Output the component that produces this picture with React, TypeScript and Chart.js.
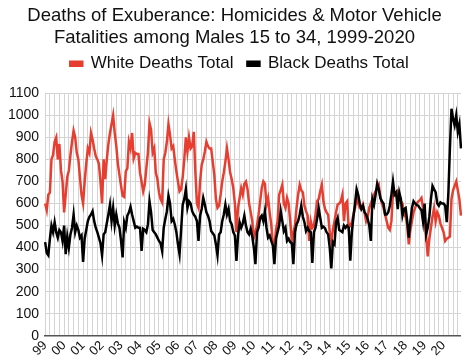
import React, { useEffect, useRef } from "react";
import { Chart, registerables } from "chart.js";

Chart.register(...registerables);

const YEARS = ["99","00","01","02","03","04","05","06","07","08","09","10","11","12","13","14","15","16","17","18","19","20"];

const WHITE_DEATHS: number[] = [
  // 1999
  600, 570, 640, 650, 800, 820, 880, 900, 800, 870, 750, 700,
  // 2000
  560, 640, 720, 750, 820, 880, 930, 900, 830, 800, 720, 640,
  // 2001
  600, 700, 780, 850, 830, 920, 890, 850, 815, 800, 780, 700,
  // 2002
  600, 800, 710, 800, 870, 920, 960, 1000, 920, 860, 780, 730,
  // 2003
  680, 635, 630, 745, 760, 880, 850, 920, 805, 830, 825, 825,
  // 2004
  740, 700, 655, 685, 760, 830, 965, 935, 830, 850, 740, 710,
  // 2005
  650, 620, 605, 800, 830, 880, 960, 910, 850, 860, 800, 745,
  // 2006
  700, 655, 665, 720, 800, 900, 835, 900, 850, 860, 925, 745,
  // 2007
  600, 580, 700, 775, 800, 835, 880, 860, 850, 850, 790, 730,
  // 2008
  620, 580, 590, 640, 700, 740, 790, 850, 800, 740, 710, 670,
  // 2009
  600, 470, 580, 625, 670, 640, 690, 700, 665, 600, 560, 520,
  // 2010
  445, 470, 500, 550, 610, 670, 700, 690, 595, 625, 560, 505,
  // 2011
  420, 400, 480, 520, 640, 660, 685, 600, 580, 625, 600, 520,
  // 2012
  430, 470, 500, 580, 640, 685, 660, 650, 590, 565, 545, 430,
  // 2013
  520, 490, 500, 550, 610, 620, 655, 685, 610, 575, 560, 548,
  // 2014
  470, 430, 480, 520, 560, 595, 600, 610, 640, 520, 600, 610,
  // 2015
  490, 500, 515, 550, 580, 625, 600, 580, 575, 595, 560, 520,
  // 2016
  540, 580, 600, 620, 640, 655, 670, 685, 630, 600, 580, 550,
  // 2017
  520, 490, 480, 520, 650, 640, 635, 655, 640, 610, 600, 550,
  // 2018
  540, 500, 415, 480, 520, 560, 580, 600, 610, 615, 625, 580,
  // 2019
  520, 450, 360, 440, 490, 540, 580, 520, 560, 545, 510, 490,
  // 2020
  470, 430, 440, 445, 450, 620, 660, 680, 700, 660, 620, 545,
];

const BLACK_DEATHS: number[] = [
  // 1999
  425, 375, 365, 440, 500, 470, 515, 470, 445, 480, 470, 430,
  // 2000
  500, 370, 450, 400, 460, 490, 550, 470, 500, 480, 445, 455,
  // 2001
  335, 440, 480, 520, 540, 550, 565, 520, 490, 470, 445, 420,
  // 2002
  365, 460, 470, 510, 550, 595, 520, 580, 500, 550, 510, 490,
  // 2003
  430, 355, 515, 490, 545, 560, 585, 550, 520, 490, 495, 490,
  // 2004
  490, 385, 485, 480, 470, 505, 610, 560, 480, 470, 460, 445,
  // 2005
  430, 420, 385, 490, 530, 565, 635, 600, 520, 530, 505, 470,
  // 2006
  415, 370, 480, 595, 620, 665, 580, 610, 600, 565, 550, 540,
  // 2007
  520, 430, 545, 575, 625, 595, 560, 545, 520, 475, 465, 455,
  // 2008
  415, 365, 460, 470, 520, 550, 595, 550, 575, 520, 505, 470,
  // 2009
  455, 340, 455, 515, 490, 510, 545, 500, 470, 460, 485, 450,
  // 2010
  400, 325, 470, 490, 535, 545, 520, 565, 490, 445, 455, 430,
  // 2011
  410, 325, 440, 470, 500, 565, 520, 475, 490, 430, 440, 425,
  // 2012
  420, 325, 470, 505, 520, 550, 590, 540, 515, 475, 490, 475,
  // 2013
  470, 330, 470, 490, 530, 580, 535, 490, 495, 488, 470, 460,
  // 2014
  400, 305, 425, 415, 515, 535, 480, 475, 470, 500, 490, 500,
  // 2015
  490, 340, 470, 540, 600, 665, 640, 600, 575, 590, 560, 550,
  // 2016
  530, 500, 430, 620, 595, 640, 690, 665, 625, 610, 600, 550,
  // 2017
  550, 560, 590, 640, 700, 640, 650, 575, 650, 620, 545, 575,
  // 2018
  580, 520, 445, 520, 580, 610, 600, 593, 590, 578, 570, 518,
  // 2019
  600, 460, 490, 540, 620, 680, 665, 650, 600, 590, 605, 600,
  // 2020
  600, 590, 515, 640, 850, 1030, 985, 955, 1000, 925, 960, 850,
];

const Y_MIN = 0;
const Y_MAX = 1100;
const Y_STEP = 100;

const LABELS: string[] = YEARS.flatMap((y) => Array.from({ length: 12 }, (_, m) => `${y}-${m + 1}`));

const legendSpacer = {
  id: "legendSpacer",
  beforeInit(chart: any) {
    const legend = chart.legend;
    if (!legend) return;
    const origFit = legend.fit;
    legend.fit = function () {
      origFit.call(this);
      this.height += 11;
    };
  },
  afterLayout(chart: any) {
    const legend = chart.legend;
    if (!legend) return;
    legend.left += 5;
    legend.right += 5;
  },
};

export default function App() {
  const ref = useRef<HTMLCanvasElement | null>(null);

  useEffect(() => {
    document.body.style.margin = "0";
    const canvas = ref.current;
    if (!canvas) return;
    const font = "'Liberation Sans', Arial, Helvetica, sans-serif";
    const chart = new Chart(canvas, {
      type: "line",
      data: {
        labels: LABELS,
        datasets: [
          {
            label: "Black Deaths Total",
            data: BLACK_DEATHS,
            borderColor: "#000000",
            backgroundColor: "#000000",
            borderWidth: 2.5,
            pointRadius: 0,
            tension: 0,
          },
          {
            label: "White Deaths Total",
            data: WHITE_DEATHS,
            borderColor: "#e63e30",
            backgroundColor: "#e63e30",
            borderWidth: 2.5,
            pointRadius: 0,
            tension: 0,
          },
        ],
      },
      plugins: [legendSpacer],
      options: {
        responsive: false,
        animation: false,
        layout: { padding: { left: 2, right: 7, top: 3, bottom: 0 } },
        plugins: {
          title: {
            display: true,
            text: [
              "Deaths of Exuberance: Homicides & Motor Vehicle",
              "Fatalities among Males 15 to 34, 1999-2020",
            ],
            color: "#111",
            font: { family: font, size: 18.5, weight: "normal", lineHeight: 1.17 },
            padding: { top: 2, bottom: -7 },
          },
          legend: {
            display: true,
            labels: {
              color: "#111",
              font: { family: font, size: 17 },
              boxWidth: 12,
              boxHeight: 4,
              padding: 14,
              sort: (a: any, b: any) => b.datasetIndex - a.datasetIndex,
            },
          },
          tooltip: { enabled: false },
        },
        scales: {
          x: {
            type: "category",
            offset: false,
            grid: {
              color: (ctx: any) => (ctx.index % 3 === 0 ? "#d4d4d4" : "rgba(0,0,0,0)"),
              drawTicks: false,
              lineWidth: 1,
            },
            border: { color: "#555", width: 1.5 },
            ticks: {
              autoSkip: false,
              minRotation: 45,
              maxRotation: 45,
              padding: 2,
              color: "#111",
              font: { family: font, size: 13 },
              callback: (_v: any, i: number) => (i % 12 === 0 ? YEARS[i / 12] : ""),
            },
          },
          y: {
            min: Y_MIN,
            max: Y_MAX,
            grid: { color: "#d4d4d4", drawTicks: false },
            border: { display: false },
            ticks: {
              stepSize: Y_STEP,
              padding: 6,
              color: "#111",
              font: { family: font, size: 14 },
              callback: (v: any) => String(v),
            },
          },
        },
      },
    });
    return () => chart.destroy();
  }, []);

  return (
    <div style={{ position: "absolute", left: 0, top: 0, width: 474, height: 361, background: "#fff" }}>
      <canvas ref={ref} width={474} height={361} />
    </div>
  );
}
